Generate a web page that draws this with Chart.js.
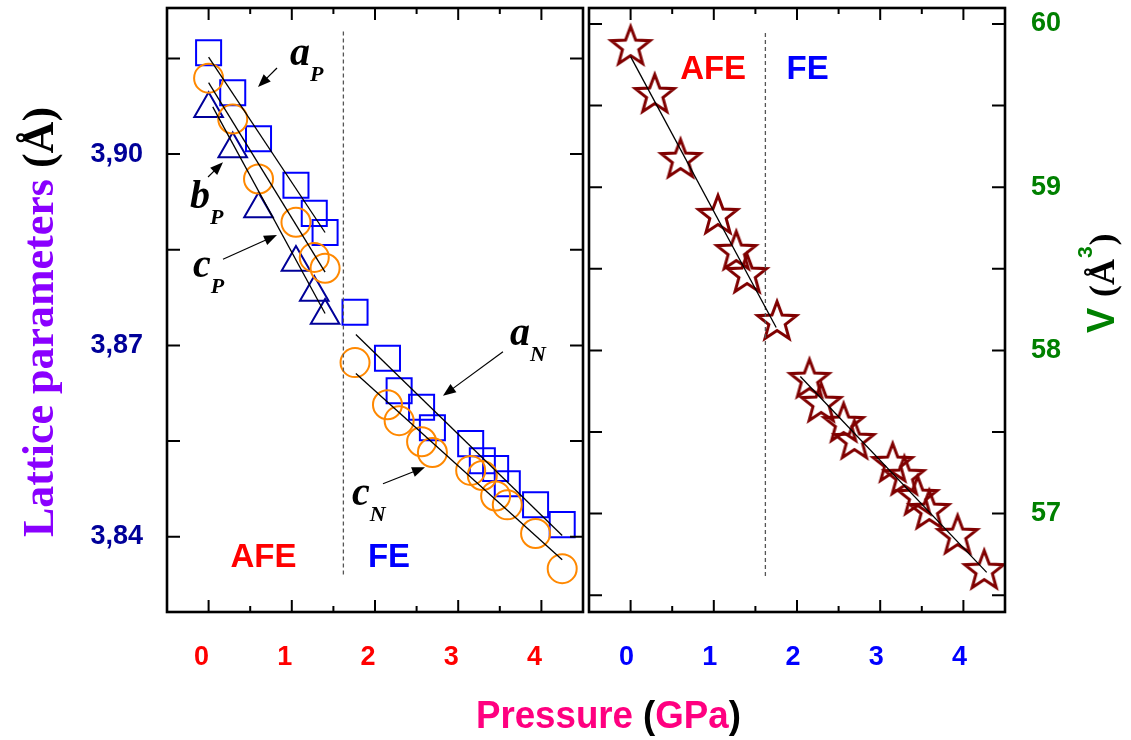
<!DOCTYPE html>
<html>
<head>
<meta charset="utf-8">
<script src="https://cdn.jsdelivr.net/npm/chart.js@4.4.0/dist/chart.umd.min.js"></script>
<style>
html, body { margin: 0; padding: 0; background: #fff; }
#wrap { position: relative; width: 1131px; height: 740px; overflow: hidden; }
#left { position: absolute; left: 0; top: 0; }
#right { position: absolute; left: 586px; top: 0; }
</style>
</head>
<body>
<div id="wrap">
  <canvas id="left" width="1131" height="740"></canvas>
  <canvas id="right" width="545" height="740"></canvas>
</div>
<script>
// pressure (GPa), shared by both panels
var pressure = [0, 0.29, 0.60, 1.05, 1.27, 1.40, 1.76, 2.15, 2.29, 2.56, 2.69, 3.15, 3.29, 3.45, 3.59, 3.93, 4.25];
// lattice parameters (A)
var aParam = [3.9159, 3.9096, 3.9024, 3.8951, 3.8907, 3.8877, 3.8752, 3.8680, 3.8629, 3.8603, 3.8571, 3.8546, 3.8519, 3.8507, 3.8483, 3.8450, 3.8419];
var cParam = [3.9119, 3.9055, 3.8961, 3.8893, 3.8838, 3.8821, 3.8673, 3.8607, 3.8582, 3.8549, 3.8532, 3.8504, 3.8496, 3.8464, 3.8450, 3.8405, 3.8350];
var bParam = [3.9071, 3.9008, 3.8914, 3.8830, 3.8783, 3.8747]; // AFE phase only
// cell volume (A^3)
var volume = [59.859, 59.565, 59.167, 58.824, 58.603, 58.462, 58.174, 57.819, 57.672, 57.549, 57.445, 57.304, 57.224, 57.102, 57.016, 56.863, 56.648];

// linear fits, [x0, y0, x1, y1]
var fitAP = [0, 3.9152, 1.40, 3.8877];
var fitCP = [0, 3.9112, 1.40, 3.8815];
var fitBP = [0.05, 3.9074, 1.40, 3.8750];
var fitAN = [1.77, 3.8717, 4.25, 3.8402];
var fitCN = [1.77, 3.8656, 4.25, 3.8364];
var fitV1 = [0, 59.80, 1.75, 58.14];
var fitV2 = [2.04, 57.84, 4.28, 56.64];

// AFE / FE boundary
var boundary = 1.62;
var boundLeft = [3.9192, 3.8337];
var boundRight = [59.945, 56.611];

// axes
var xTicks = [0, 0.5, 1, 1.5, 2, 2.5, 3, 3.5, 4];
var xTickLabels = ['0', '', '1', '', '2', '', '3', '', '4'];
var yLeftTicks = [3.84, 3.855, 3.87, 3.885, 3.90, 3.915];
var yLeftLabels = ['3,84', '', '3,87', '', '3,90', ''];
var yRightTicks = [56.5, 57, 57.5, 58, 58.5, 59, 59.5, 60];
var yRightLabels = ['', '57', '', '58', '', '59', '', '60'];

// annotation letters (data coords of left/baseline)
var leftNames = [
  { main: 'a', sub: 'P', x: 0.978, y: 3.9140 },
  { main: 'b', sub: 'P', x: -0.224, y: 3.8915 },
  { main: 'c', sub: 'P', x: -0.188, y: 3.8807 },
  { main: 'a', sub: 'N', x: 3.623, y: 3.8701 },
  { main: 'c', sub: 'N', x: 1.724, y: 3.8450 }
];
// arrows: tail x, tail y, head x, head y
var leftArrows = [
  [0.822, 3.9135, 0.594, 3.9105],
  [-0.007, 3.8964, 0.173, 3.8987],
  [0.173, 3.8835, 0.822, 3.8873],
  [3.538, 3.8690, 2.817, 3.8621],
  [2.096, 3.8483, 2.601, 3.8509]
];
var leftPhase = [{ t: 'AFE', c: '#ff0000', x: 0.66, y: 3.8352 }, { t: 'FE', c: '#0000ff', x: 2.168, y: 3.8352 }];
var rightPhase = [{ t: 'AFE', c: '#ff0000', x: 0.992, y: 59.663 }, { t: 'FE', c: '#0000ff', x: 2.127, y: 59.663 }];

function pts(xs, ys) {
  return ys.map(function (v, i) { return { x: xs[i], y: v }; });
}
function seg(f) {
  return [{ x: f[0], y: f[1] }, { x: f[2], y: f[3] }];
}
function lineSet(data, dash, color) {
  return { data: data, showLine: true, pointRadius: 0, borderColor: color || '#000', borderWidth: 1.3,
           borderDash: dash || [], order: 0 };
}

function makeStar(R, r, color, lw) {
  var c = document.createElement('canvas');
  c.width = 60; c.height = 60;
  var g = c.getContext('2d');
  g.translate(30, 30);
  g.beginPath();
  for (var i = 0; i < 10; i++) {
    var rad = i % 2 ? r : R, ang = -Math.PI / 2 + i * Math.PI / 5;
    g.lineTo(rad * Math.cos(ang), rad * Math.sin(ang));
  }
  g.closePath();
  g.strokeStyle = color;
  g.lineWidth = lw;
  g.stroke();
  return c;
}

function setTicks(values) {
  return function (s) { s.ticks = values.map(function (v) { return { value: v }; }); };
}
function fixSize(prop, size) {
  return function (s) {
    s[prop] = size;
    s.paddingTop = 0; s.paddingBottom = 0; s.paddingLeft = 0; s.paddingRight = 0;
  };
}

var tickFont = { family: '"Liberation Sans", Arial, sans-serif', size: 27, weight: 'bold' };

var framePlugin = {
  id: 'frame',
  afterDatasetsDraw: function (chart) {
    var ctx = chart.ctx, a = chart.chartArea, xs = chart.scales.x, ys = chart.scales.y;
    ctx.save();
    ctx.strokeStyle = '#000';
    ctx.lineWidth = 2;
    ctx.beginPath();
    xs.ticks.forEach(function (t) {
      var px = xs.getPixelForValue(t.value);
      var len = t.value % 1 === 0 ? 12 : 6;
      ctx.moveTo(px, a.bottom); ctx.lineTo(px, a.bottom - len);
      ctx.moveTo(px, a.top); ctx.lineTo(px, a.top + len);
    });
    ys.ticks.forEach(function (t) {
      var py = ys.getPixelForValue(t.value);
      ctx.moveTo(a.left, py); ctx.lineTo(a.left + 13, py);
      ctx.moveTo(a.right, py); ctx.lineTo(a.right - 13, py);
    });
    ctx.stroke();
    ctx.lineWidth = 2.6;
    ctx.strokeRect(a.left, a.top, a.right - a.left, a.bottom - a.top);
    ctx.restore();
  }
};

function arrow(ctx, x0, y0, x1, y1) {
  var ang = Math.atan2(y1 - y0, x1 - x0), L = 13, W = 5;
  ctx.beginPath();
  ctx.moveTo(x0, y0);
  ctx.lineTo(x1 - L * 0.8 * Math.cos(ang), y1 - L * 0.8 * Math.sin(ang));
  ctx.stroke();
  ctx.beginPath();
  ctx.moveTo(x1, y1);
  ctx.lineTo(x1 - L * Math.cos(ang) + W * Math.sin(ang), y1 - L * Math.sin(ang) - W * Math.cos(ang));
  ctx.lineTo(x1 - L * Math.cos(ang) - W * Math.sin(ang), y1 - L * Math.sin(ang) + W * Math.cos(ang));
  ctx.closePath();
  ctx.fill();
}

function drawPhase(chart, list) {
  var ctx = chart.ctx, xs = chart.scales.x, ys = chart.scales.y;
  ctx.save();
  ctx.font = 'bold 33px "Liberation Sans", Arial, sans-serif';
  ctx.textAlign = 'center';
  ctx.textBaseline = 'alphabetic';
  list.forEach(function (p) {
    ctx.fillStyle = p.c;
    ctx.fillText(p.t, xs.getPixelForValue(p.x), ys.getPixelForValue(p.y));
  });
  ctx.restore();
}

var leftNotes = {
  id: 'leftNotes',
  afterDraw: function (chart) {
    var ctx = chart.ctx, xs = chart.scales.x, ys = chart.scales.y;
    ctx.save();
    ctx.fillStyle = '#000';
    ctx.textBaseline = 'alphabetic';
    leftNames.forEach(function (n) {
      var px = xs.getPixelForValue(n.x), py = ys.getPixelForValue(n.y);
      ctx.font = 'italic bold 40px "Liberation Serif", "Times New Roman", serif';
      ctx.fillText(n.main, px, py);
      var w = ctx.measureText(n.main).width;
      ctx.font = 'italic bold 22px "Liberation Serif", "Times New Roman", serif';
      ctx.fillText(n.sub, px + w, py + 16);
    });
    ctx.strokeStyle = '#000';
    ctx.lineWidth = 1.2;
    leftArrows.forEach(function (r) {
      arrow(ctx, xs.getPixelForValue(r[0]), ys.getPixelForValue(r[1]), xs.getPixelForValue(r[2]), ys.getPixelForValue(r[3]));
    });
    ctx.restore();
    drawPhase(chart, leftPhase);

    // y title
    ctx.save();
    ctx.translate(53, 537);
    ctx.rotate(-Math.PI / 2);
    ctx.textBaseline = 'alphabetic';
    ctx.font = 'bold 44px "Liberation Serif", "Times New Roman", serif';
    ctx.fillStyle = '#8a00ff';
    var t1 = 'Lattice parameters ';
    ctx.fillText(t1, 0, 0);
    ctx.fillStyle = '#000';
    ctx.fillText('(Å)', ctx.measureText(t1).width, 0);
    ctx.restore();

    // x title
    ctx.save();
    ctx.translate(476, 728);
    ctx.scale(0.94, 1);
    ctx.font = 'bold 39px "Liberation Sans", Arial, sans-serif';
    var x = 0;
    [['Pressure ', '#ff0080'], ['(', '#000'], ['GPa', '#ff0080'], [')', '#000']].forEach(function (p) {
      ctx.fillStyle = p[1];
      ctx.fillText(p[0], x, 0);
      x += ctx.measureText(p[0]).width;
    });
    ctx.restore();
  }
};

var rightNotes = {
  id: 'rightNotes',
  afterDraw: function (chart) {
    drawPhase(chart, rightPhase);
    var ctx = chart.ctx;
    ctx.save();
    ctx.translate(528, 333);
    ctx.rotate(-Math.PI / 2);
    ctx.textBaseline = 'alphabetic';
    var x = 0;
    ctx.font = 'bold 38px "Liberation Sans", Arial, sans-serif';
    ctx.fillStyle = '#008000';
    ctx.fillText('V', x, 0);
    x += ctx.measureText('V ').width;
    ctx.font = 'bold 36px "Liberation Serif", "Times New Roman", serif';
    ctx.fillStyle = '#000';
    ctx.fillText('(Å', x, 0);
    x += ctx.measureText('(Å').width;
    ctx.font = 'bold 21px "Liberation Sans", Arial, sans-serif';
    ctx.fillStyle = '#008000';
    ctx.fillText('3', x + 1, -22);
    x += ctx.measureText('3').width + 2;
    ctx.font = 'bold 36px "Liberation Serif", "Times New Roman", serif';
    ctx.fillStyle = '#000';
    ctx.fillText(')', x, 0);
    ctx.restore();
  }
};

new Chart(document.getElementById('left'), {
  type: 'scatter',
  data: {
    datasets: [
      lineSet(seg(fitAP)), lineSet(seg(fitCP)), lineSet(seg(fitBP)),
      lineSet(seg(fitAN)), lineSet(seg(fitCN)),
      lineSet([{ x: boundary, y: boundLeft[0] }, { x: boundary, y: boundLeft[1] }], [4, 3], '#555'),
      { data: pts(pressure, aParam), pointStyle: 'rect', pointRadius: 17.7, borderColor: '#0000ff',
        backgroundColor: 'rgba(0,0,0,0)', borderWidth: 2, order: 3 },
      { data: pts(pressure, bParam), pointStyle: 'triangle', pointRadius: 16.5, borderColor: '#000099',
        backgroundColor: 'rgba(0,0,0,0)', borderWidth: 2, order: 2 },
      { data: pts(pressure, cParam), pointStyle: 'circle', pointRadius: 14.5, borderColor: '#ff8800',
        backgroundColor: 'rgba(0,0,0,0)', borderWidth: 2, order: 1 }
    ]
  },
  options: {
    responsive: false, animation: false, devicePixelRatio: 1,
    layout: { autoPadding: false, padding: { left: 0, top: 8, right: 1131 - 583, bottom: 0 } },
    plugins: { legend: { display: false }, tooltip: { enabled: false } },
    scales: {
      x: {
        type: 'linear', min: -0.5, max: 4.5,
        grid: { display: false, drawTicks: false }, border: { display: false },
        afterBuildTicks: setTicks(xTicks),
        afterFit: fixSize('height', 128),
        ticks: { color: '#ff0000', font: tickFont, padding: 29, labelOffset: -7, autoSkip: false, maxRotation: 0,
                 callback: function (v, i) { return xTickLabels[i]; } }
      },
      y: {
        type: 'linear', min: 3.8282, max: 3.9229,
        grid: { display: false, drawTicks: false }, border: { display: false },
        afterBuildTicks: setTicks(yLeftTicks),
        afterFit: fixSize('width', 167),
        ticks: { color: '#000099', font: tickFont, padding: 24, autoSkip: false,
                 callback: function (v, i) { return yLeftLabels[i]; } }
      }
    }
  },
  plugins: [framePlugin, leftNotes]
});

new Chart(document.getElementById('right'), {
  type: 'scatter',
  data: {
    datasets: [
      lineSet(seg(fitV1)), lineSet(seg(fitV2)),
      lineSet([{ x: boundary, y: boundRight[0] }, { x: boundary, y: boundRight[1] }], [4, 3], '#555'),
      { data: pts(pressure, volume), pointStyle: makeStar(20.5, 8.6, '#800000', 3), pointRadius: 21,
        borderColor: '#800000', backgroundColor: 'rgba(0,0,0,0)', order: 1 }
    ]
  },
  options: {
    responsive: false, animation: false, devicePixelRatio: 1,
    layout: { autoPadding: false, padding: { left: 3, top: 8, right: 0, bottom: 0 } },
    plugins: { legend: { display: false }, tooltip: { enabled: false } },
    scales: {
      x: {
        type: 'linear', min: -0.5, max: 4.5,
        grid: { display: false, drawTicks: false }, border: { display: false },
        afterBuildTicks: setTicks(xTicks),
        afterFit: fixSize('height', 128),
        ticks: { color: '#0000ff', font: tickFont, padding: 29, labelOffset: -4, autoSkip: false, maxRotation: 0,
                 callback: function (v, i) { return xTickLabels[i]; } }
      },
      y: {
        type: 'linear', position: 'right', min: 56.397, max: 60.098,
        grid: { display: false, drawTicks: false }, border: { display: false },
        afterBuildTicks: setTicks(yRightTicks),
        afterFit: fixSize('width', 126),
        ticks: { color: '#008000', font: tickFont, padding: 26, autoSkip: false,
                 callback: function (v, i) { return yRightLabels[i]; } }
      }
    }
  },
  plugins: [framePlugin, rightNotes]
});
</script>
</body>
</html>
